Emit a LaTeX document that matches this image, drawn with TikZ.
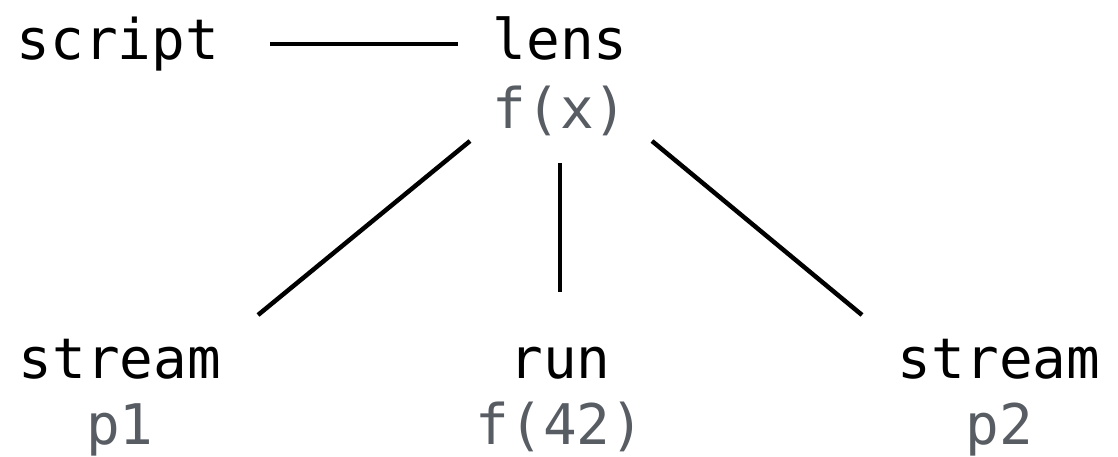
\documentclass[tikz,border=0pt]{standalone}
\usepackage{fontspec}
\setmonofont{DejaVu Sans Mono}
\usetikzlibrary{calc}
\definecolor{subgray}{RGB}{88,92,99}
\tikzset{
  lbl/.style={anchor=base, inner sep=0pt, font=\ttfamily\fontsize{56}{60}\selectfont, text=black},
  sub/.style={lbl, text=subgray},
  link/.style={line width=4.5pt, draw=black}
}
\begin{document}
\begin{tikzpicture}[x=1pt,y=1pt]
\useasboundingbox (0,0) rectangle (1118,-456);
\node[lbl] (script) at (118,-59) {script};
\node[lbl] (lens) at (560,-59) {lens};
\node[sub] (fx) at (560,-128) {f(x)};
\node[lbl] (stream1) at (120,-378) {stream};
\node[sub] (p1) at (120,-444) {p1};
\node[lbl] (run) at (560,-378) {run};
\node[sub] (f42) at (560,-444) {f(42)};
\node[lbl] (stream2) at (999,-378) {stream};
\node[sub] (p2) at (999,-444) {p2};
\draw[link] ($(script.base)+(152,15)$) -- ($(lens.base)+(-102,15)$);
\draw[link] ($(fx.base)+(-90,-13)$) -- ($(stream1.base)+(138,63)$);
\draw[link] ($(fx.base)+(0,-35)$) -- ($(run.base)+(0,86)$);
\draw[link] ($(fx.base)+(92,-13)$) -- ($(stream2.base)+(-137,63)$);
\end{tikzpicture}
\end{document}
